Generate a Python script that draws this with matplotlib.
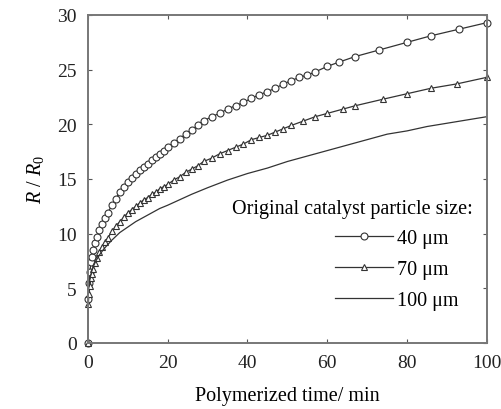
import matplotlib.pyplot as plt

plt.rcParams['font.family'] = ['Liberation Serif', 'DejaVu Serif']
plt.rcParams['mathtext.fontset'] = 'custom'
plt.rcParams['mathtext.it'] = 'Liberation Serif:italic'
plt.rcParams['mathtext.rm'] = 'Liberation Serif'

# 40 um
t40 = [0, 0.1, 0.3, 0.5, 0.8, 1.0, 1.3, 1.7, 2.2, 2.8, 3.5, 4.2, 5, 6, 7, 8, 9, 10,
       11, 12, 13, 14, 15, 16, 17, 18, 19, 20, 21.5, 23, 24.5, 26, 27.5, 29, 31, 33,
       35, 37, 39, 41, 43, 45, 47, 49, 51, 53, 55, 57, 60, 63, 67, 73, 80, 86, 93, 100]
r40 = [0, 4.0, 5.5, 6.5, 7.4, 7.9, 8.5, 9.1, 9.7, 10.3, 10.9, 11.4, 11.9, 12.6, 13.2,
       13.8, 14.3, 14.7, 15.1, 15.5, 15.8, 16.1, 16.4, 16.7, 17.0, 17.3, 17.6, 17.9,
       18.3, 18.7, 19.1, 19.5, 19.9, 20.3, 20.7, 21.0, 21.4, 21.7, 22.0, 22.4, 22.7,
       23.0, 23.3, 23.7, 24.0, 24.3, 24.5, 24.8, 25.3, 25.7, 26.2, 26.8, 27.5, 28.1,
       28.7, 29.3]

# 70 um
t70 = [0, 0.1, 0.3, 0.5, 0.8, 1.0, 1.3, 1.7, 2.2, 2.8, 3.5, 4.2, 5, 6, 7, 8, 9, 10,
       11, 12, 13, 14, 15, 16, 17, 18, 19, 20, 21.5, 23, 24.5, 26, 27.5, 29, 31, 33,
       35, 37, 39, 41, 43, 45, 47, 49, 51, 54, 57, 60, 64, 67, 74, 80, 86, 92.5, 100]
r70 = [0, 3.6, 4.5, 5.2, 5.9, 6.3, 6.8, 7.3, 7.8, 8.3, 8.8, 9.2, 9.6, 10.2, 10.7,
       11.1, 11.5, 11.9, 12.2, 12.5, 12.8, 13.1, 13.3, 13.6, 13.8, 14.1, 14.3, 14.5,
       14.9, 15.2, 15.6, 15.9, 16.2, 16.6, 16.9, 17.3, 17.6, 17.9, 18.2, 18.6, 18.8,
       19.0, 19.3, 19.6, 19.9, 20.3, 20.7, 21.0, 21.4, 21.7, 22.3, 22.8, 23.3, 23.7,
       24.3]

# 100 um
t100 = [0.05, 0.3, 0.6, 1, 1.5, 2, 3, 4, 5, 6, 8, 10, 12, 15, 18, 20, 23, 26, 30, 35,
        40, 45, 50, 55, 60, 65, 70, 75, 80, 85, 90, 95, 100]
r100 = [4.5, 5.3, 6.0, 6.6, 7.1, 7.5, 8.1, 8.6, 9.0, 9.4, 10.1, 10.6, 11.1, 11.7,
        12.3, 12.6, 13.1, 13.6, 14.2, 14.9, 15.5, 16.0, 16.6, 17.1, 17.6, 18.1, 18.6,
        19.1, 19.4, 19.8, 20.1, 20.4, 20.7]

fig = plt.figure(figsize=(5.02, 4.10), dpi=100)
ax = fig.add_axes([0.175, 0.161, 0.795, 0.800])

ax.plot(t40, r40, color='#333333', linewidth=0.9, marker='o', markersize=5,
        markerfacecolor='white', markeredgewidth=0.8, clip_on=False, label='40 μm')
ax.plot(t70, r70, color='#333333', linewidth=0.9, marker='^', markersize=5,
        markerfacecolor='white', markeredgewidth=0.8, clip_on=False, label='70 μm')
ax.plot(t100, r100, color='#333333', linewidth=0.9, label='100 μm')

ax.set_xlim(0, 100)
ax.set_ylim(0, 30)
ax.set_xticks([0, 20, 40, 60, 80, 100])
ax.set_yticks([0, 5, 10, 15, 20, 25, 30])
ax.tick_params(direction='in', length=3, width=0.8, labelsize=14, pad=8,
               top=True, right=True, colors='#555555', labelcolor='#222222')
for s in ax.spines.values():
    s.set_color('#777777')
    s.set_linewidth(1.4)

ax.set_xlabel('Polymerized time/ min', fontsize=14.5, labelpad=11)
ax.set_ylabel('$\\mathit{R}$ / $\\mathit{R}_0$', fontsize=14.5, labelpad=8)

ax.text(0.965, 0.41, 'Original catalyst particle size:', transform=ax.transAxes,
        ha='right', va='center', fontsize=14.5)
ax.legend(loc='lower right', bbox_to_anchor=(0.95, 0.075), frameon=False,
          fontsize=14.5, handlelength=2.9, handletextpad=0.2, labelspacing=0.6,
          borderaxespad=0)

fig.savefig('out.png', dpi=100)
